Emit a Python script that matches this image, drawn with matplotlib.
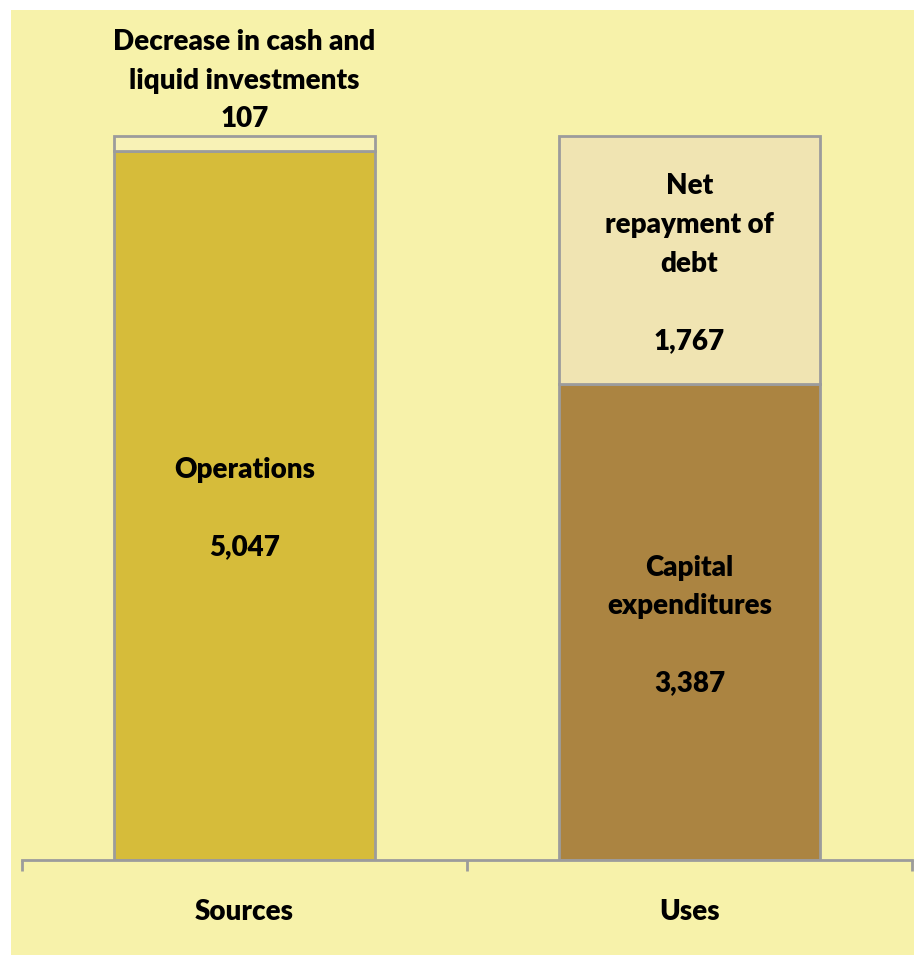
import matplotlib
matplotlib.use("Agg")
import matplotlib.pyplot as plt

# sources and uses of cash (stacked bars)
categories = ["Sources", "Uses"]
bottom_values = [5047, 3387]
top_values = [107, 1767]
bottom_labels = ["Operations\n\n5,047", "Capital\nexpenditures\n\n3,387"]
top_labels = ["Decrease in cash and\nliquid investments\n107", "Net\nrepayment of\ndebt\n\n1,767"]

bottom_colors = ["#D6BC3A", "#AB8441"]
top_colors = ["#F8F2B6", "#F0E4B2"]
bg = "#F7F2AA"
edge = "#9C9C9C"

plt.rcParams['font.family'] = ['Lato', 'DejaVu Sans']

fig = plt.figure(figsize=(9.14, 9.55), dpi=100)

# yellow chart area with a thin white margin at left and top
back = fig.add_axes([11 / 914, 0, 1 - 11 / 914, 1 - 10 / 955], zorder=-1)
back.set_facecolor(bg)
back.set_xticks([])
back.set_yticks([])
for s in back.spines.values():
    s.set_visible(False)

ax = fig.add_axes([22 / 914, 95 / 955, 890 / 914, 850 / 955])
ax.set_facecolor("none")

x = range(len(categories))
ax.bar(x, bottom_values, width=0.587, color=bottom_colors, edgecolor=edge, linewidth=2)
ax.bar(x, top_values, bottom=bottom_values, width=0.587, color=top_colors,
       edgecolor=edge, linewidth=2)

ax.set_xlim(-0.5, 1.5)
ax.set_ylim(0, 6050)

txt = dict(ha="center", va="center", fontsize=20, fontweight="heavy", linespacing=1.6)
nudge = 25  # labels sit a touch below the segment middle
for i in x:
    ax.text(i, bottom_values[i] / 2 - nudge, bottom_labels[i], **txt)
    if top_values[i] > 500:
        ax.text(i, bottom_values[i] + top_values[i] / 2 - nudge, top_labels[i], **txt)
    else:
        ax.text(i, bottom_values[i] + top_values[i] + 25, top_labels[i],
                **{**txt, "va": "bottom"})

for s in ["top", "right", "left"]:
    ax.spines[s].set_visible(False)
ax.spines["bottom"].set_color(edge)
ax.spines["bottom"].set_linewidth(2)
ax.set_yticks([])
ax.set_xticks([-0.5, 0.5, 1.5])
ax.set_xticklabels([])
ax.set_xticks(list(x), minor=True)
ax.set_xticklabels(categories, minor=True, fontsize=20, fontweight="heavy")
ax.tick_params(axis="x", which="major", length=8, width=2, color=edge)
ax.tick_params(axis="x", which="minor", length=0, pad=28)

fig.savefig("out.png", dpi=100)
